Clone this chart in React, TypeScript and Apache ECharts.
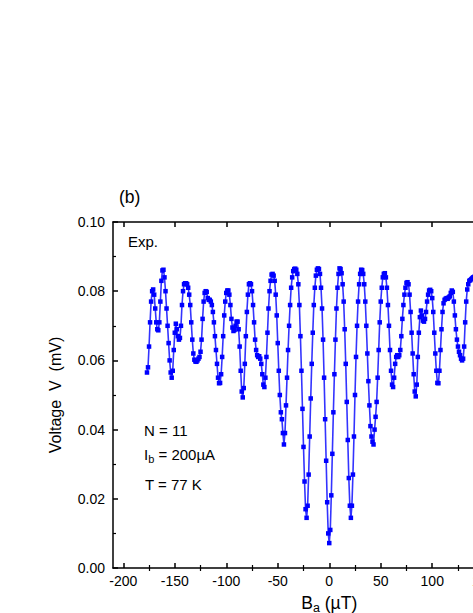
import React, { useEffect, useRef } from "react";
import * as echarts from "echarts";

// Applied field B_a (µT): samples start at B_START with a 1 µT step
const B_START = -177;
const B_STEP = 1;

// Voltage V (mV), one value per µT from -177 to 142
const voltage = [
  // -177 .. -168
  0.0565, 0.058, 0.064, 0.071, 0.077, 0.080, 0.0805, 0.079, 0.075, 0.071,
  // -167 .. -158
  0.069, 0.0687, 0.071, 0.077, 0.083, 0.086, 0.0862, 0.084, 0.080, 0.075,
  // -157 .. -148
  0.070, 0.065, 0.060, 0.0565, 0.055, 0.057, 0.063, 0.068, 0.0706, 0.069,
  // -147 .. -138
  0.067, 0.066, 0.0665, 0.070, 0.076, 0.080, 0.082, 0.0823, 0.0823, 0.082,
  // -137 .. -128
  0.081, 0.079, 0.076, 0.071, 0.066, 0.062, 0.0602, 0.0597, 0.0596, 0.060,
  // -127 .. -118
  0.0605, 0.061, 0.0625, 0.066, 0.072, 0.077, 0.0795, 0.080, 0.0798, 0.078,
  // -117 .. -108
  0.0775, 0.0775, 0.077, 0.076, 0.074, 0.071, 0.067, 0.063, 0.059, 0.055,
  // -107 .. -98
  0.0534, 0.0535, 0.056, 0.061, 0.067, 0.073, 0.077, 0.0795, 0.0802, 0.0802,
  // -97 .. -88
  0.079, 0.076, 0.072, 0.0695, 0.0685, 0.0688, 0.070, 0.0712, 0.0712, 0.069,
  // -87 .. -78
  0.064, 0.057, 0.051, 0.0493, 0.052, 0.059, 0.067, 0.074, 0.079, 0.082,
  // -77 .. -68
  0.0823, 0.082, 0.080, 0.076, 0.071, 0.066, 0.063, 0.0615, 0.061, 0.0612,
  // -67 .. -58
  0.0605, 0.059, 0.056, 0.053, 0.0523, 0.055, 0.061, 0.068, 0.075, 0.080,
  // -57 .. -48
  0.083, 0.0848, 0.085, 0.0845, 0.083, 0.079, 0.073, 0.065, 0.057, 0.050,
  // -47 .. -38
  0.045, 0.043, 0.039, 0.0357, 0.039, 0.047, 0.055, 0.063, 0.070, 0.076,
  // -37 .. -28
  0.081, 0.084, 0.0858, 0.0864, 0.0865, 0.0862, 0.085, 0.082, 0.076, 0.067,
  // -27 .. -18
  0.057, 0.046, 0.035, 0.025, 0.017, 0.0145, 0.018, 0.027, 0.038, 0.049,
  // -17 .. -8
  0.059, 0.068, 0.076, 0.081, 0.0845, 0.0862, 0.0866, 0.0864, 0.085, 0.081,
  // -7 .. 2
  0.075, 0.066, 0.055, 0.043, 0.031, 0.019, 0.010, 0.0072, 0.011, 0.021,
  // 3 .. 12
  0.033, 0.045, 0.056, 0.066, 0.075, 0.081, 0.085, 0.0866, 0.0864, 0.0852,
  // 13 .. 22
  0.082, 0.077, 0.069, 0.059, 0.048, 0.037, 0.026, 0.018, 0.0145, 0.018,
  // 23 .. 32
  0.027, 0.038, 0.050, 0.061, 0.070, 0.077, 0.082, 0.085, 0.0862, 0.0861,
  // 33 .. 42
  0.085, 0.082, 0.077, 0.070, 0.062, 0.054, 0.047, 0.041, 0.038, 0.0365,
  // 43 .. 52
  0.0357, 0.040, 0.0437, 0.048, 0.055, 0.063, 0.071, 0.077, 0.081, 0.084,
  // 53 .. 62
  0.085, 0.0852, 0.084, 0.081, 0.076, 0.070, 0.063, 0.057, 0.053, 0.0523,
  // 63 .. 72
  0.055, 0.059, 0.061, 0.0615, 0.061, 0.0615, 0.063, 0.067, 0.072, 0.076,
  // 73 .. 82
  0.079, 0.081, 0.0824, 0.0826, 0.082, 0.079, 0.074, 0.068, 0.062, 0.056,
  // 83 .. 92
  0.051, 0.0496, 0.053, 0.061, 0.068, 0.0725, 0.0744, 0.073, 0.0715, 0.0712,
  // 93 .. 102
  0.072, 0.074, 0.077, 0.079, 0.0802, 0.0804, 0.080, 0.078, 0.074, 0.068,
  // 103 .. 112
  0.062, 0.057, 0.0535, 0.0534, 0.057, 0.063, 0.069, 0.074, 0.0765, 0.0775,
  // 113 .. 122
  0.0778, 0.078, 0.0778, 0.0782, 0.0785, 0.0795, 0.0802, 0.0798, 0.077, 0.073,
  // 123 .. 132
  0.069, 0.066, 0.064, 0.0625, 0.0615, 0.0605, 0.060, 0.0605, 0.064, 0.071,
  // 133 .. 142
  0.077, 0.0805, 0.082, 0.083, 0.0832, 0.0835, 0.0838, 0.084, 0.0842, 0.0843,
];

const xMajorTicks = [-200, -150, -100, -50, 0, 50, 100, 150, 200];
const xMinorTicks = [-175, -125, -75, -25, 25, 75, 125, 175];
const X_MIN = -210;
const X_MAX = 210;
const Y_MIN = 0;
const Y_MAX = 0.1;
const Y_STEP = 0.02;

const FONT = "'Liberation Sans', Arial, sans-serif";
const BLACK = "#000";
const BLUE = "#0000ff";

export default function App() {
  const ref = useRef<HTMLDivElement>(null);

  useEffect(() => {
    if (!ref.current) return;
    const chart = echarts.init(ref.current, null, { renderer: "svg" });
    const data = voltage.map((v, i) => [B_START + i * B_STEP, v]);

    const axisLine = { show: true, onZero: false, lineStyle: { color: BLACK, width: 1.5 } };
    const majorTick = (vals: number[]) => ({
      show: true,
      inside: true,
      length: 5,
      customValues: vals,
      lineStyle: { color: BLACK, width: 1.5 },
    });
    const minorTick = (vals: number[]) => ({
      show: true,
      inside: true,
      length: 3,
      customValues: vals,
      lineStyle: { color: BLACK, width: 1.2 },
    });

    chart.setOption({
      animation: false,
      backgroundColor: "#fff",
      textStyle: { fontFamily: FONT },
      grid: { left: 113, right: 14.5, top: 222, bottom: 45, outerBoundsMode: "none" },
      xAxis: [
        {
          type: "value",
          position: "bottom",
          min: X_MIN,
          max: X_MAX,
          axisLine,
          axisTick: majorTick(xMajorTicks),
          axisLabel: {
            customValues: xMajorTicks,
            color: BLACK,
            fontSize: 14,
            fontFamily: FONT,
            margin: 6,
          },
          splitLine: { show: false },
          name: "{b|B}{sub|a}{b| (µT)}",
          nameLocation: "middle",
          nameGap: 23,
          nameTextStyle: {
            color: BLACK,
            fontFamily: FONT,
            rich: {
              b: { fontSize: 17.5, fontFamily: FONT, color: BLACK },
              sub: { fontSize: 12.5, fontFamily: FONT, color: BLACK, padding: [10, 0, 0, 0] },
            },
          },
        },
        {
          type: "value",
          position: "bottom",
          min: X_MIN,
          max: X_MAX,
          axisLine: { show: false },
          axisTick: minorTick(xMinorTicks),
          axisLabel: { show: false },
          splitLine: { show: false },
        },
        {
          type: "value",
          position: "top",
          min: X_MIN,
          max: X_MAX,
          axisLine,
          axisTick: majorTick(xMajorTicks),
          axisLabel: { show: false },
          splitLine: { show: false },
        },
        {
          type: "value",
          position: "top",
          min: X_MIN,
          max: X_MAX,
          axisLine: { show: false },
          axisTick: minorTick(xMinorTicks),
          axisLabel: { show: false },
          splitLine: { show: false },
        },
      ],
      yAxis: [
        {
          type: "value",
          position: "left",
          min: Y_MIN,
          max: Y_MAX,
          interval: Y_STEP,
          axisLine,
          axisTick: { show: true, inside: true, length: 5, lineStyle: { color: BLACK, width: 1.5 } },
          minorTick: { show: true, splitNumber: 2, length: 3, lineStyle: { color: BLACK, width: 1.2 } },
          axisLabel: {
            color: BLACK,
            fontSize: 14,
            fontFamily: FONT,
            margin: 8,
            formatter: (v: number) => v.toFixed(2),
          },
          splitLine: { show: false },
          name: "Voltage  V  (mV)",
          nameLocation: "middle",
          nameGap: 50,
          nameRotate: 90,
          nameTextStyle: { color: BLACK, fontSize: 16, fontFamily: FONT },
        },
        {
          type: "value",
          position: "right",
          min: Y_MIN,
          max: Y_MAX,
          interval: Y_STEP,
          axisLine,
          axisTick: { show: true, inside: true, length: 5, lineStyle: { color: BLACK, width: 1.5 } },
          minorTick: { show: true, splitNumber: 2, length: 3, lineStyle: { color: BLACK, width: 1.2 } },
          axisLabel: { show: false },
          splitLine: { show: false },
        },
      ],
      series: [
        {
          type: "line",
          xAxisIndex: 0,
          yAxisIndex: 0,
          data,
          symbol: "rect",
          symbolSize: 4.5,
          showSymbol: true,
          showAllSymbol: true,
          itemStyle: { color: BLUE },
          lineStyle: { color: BLUE, width: 1.6, opacity: 0.8 },
          clip: true,
        },
      ],
      graphic: [
        {
          type: "text",
          left: 119,
          top: 188,
          style: { text: "(b)", fontSize: 17.5, fontFamily: FONT, fill: BLACK },
        },
        {
          type: "text",
          left: 128,
          top: 234,
          style: { text: "Exp.", fontSize: 15, fontFamily: FONT, fill: BLACK },
        },
        {
          type: "text",
          left: 144,
          top: 423,
          style: { text: "N = 11", fontSize: 15, fontFamily: FONT, fill: BLACK },
        },
        {
          type: "text",
          left: 144,
          top: 447,
          style: {
            text: "{n|I}{s|b}{n| = 200µA}",
            fontFamily: FONT,
            fill: BLACK,
            rich: {
              n: { fontSize: 15, fontFamily: FONT, fill: BLACK },
              s: { fontSize: 11, fontFamily: FONT, fill: BLACK, padding: [9, 0, 0, 0] },
            },
          },
        },
        {
          type: "text",
          left: 145,
          top: 477,
          style: { text: "T = 77 K", fontSize: 15, fontFamily: FONT, fill: BLACK },
        },
      ],
    });

    return () => chart.dispose();
  }, []);

  return (
    <div
      style={{
        position: "fixed",
        left: 0,
        top: 0,
        width: 473,
        height: 613,
        overflow: "hidden",
        background: "#fff",
      }}
    >
      <div ref={ref} style={{ width: 560, height: 613 }} />
    </div>
  );
}
